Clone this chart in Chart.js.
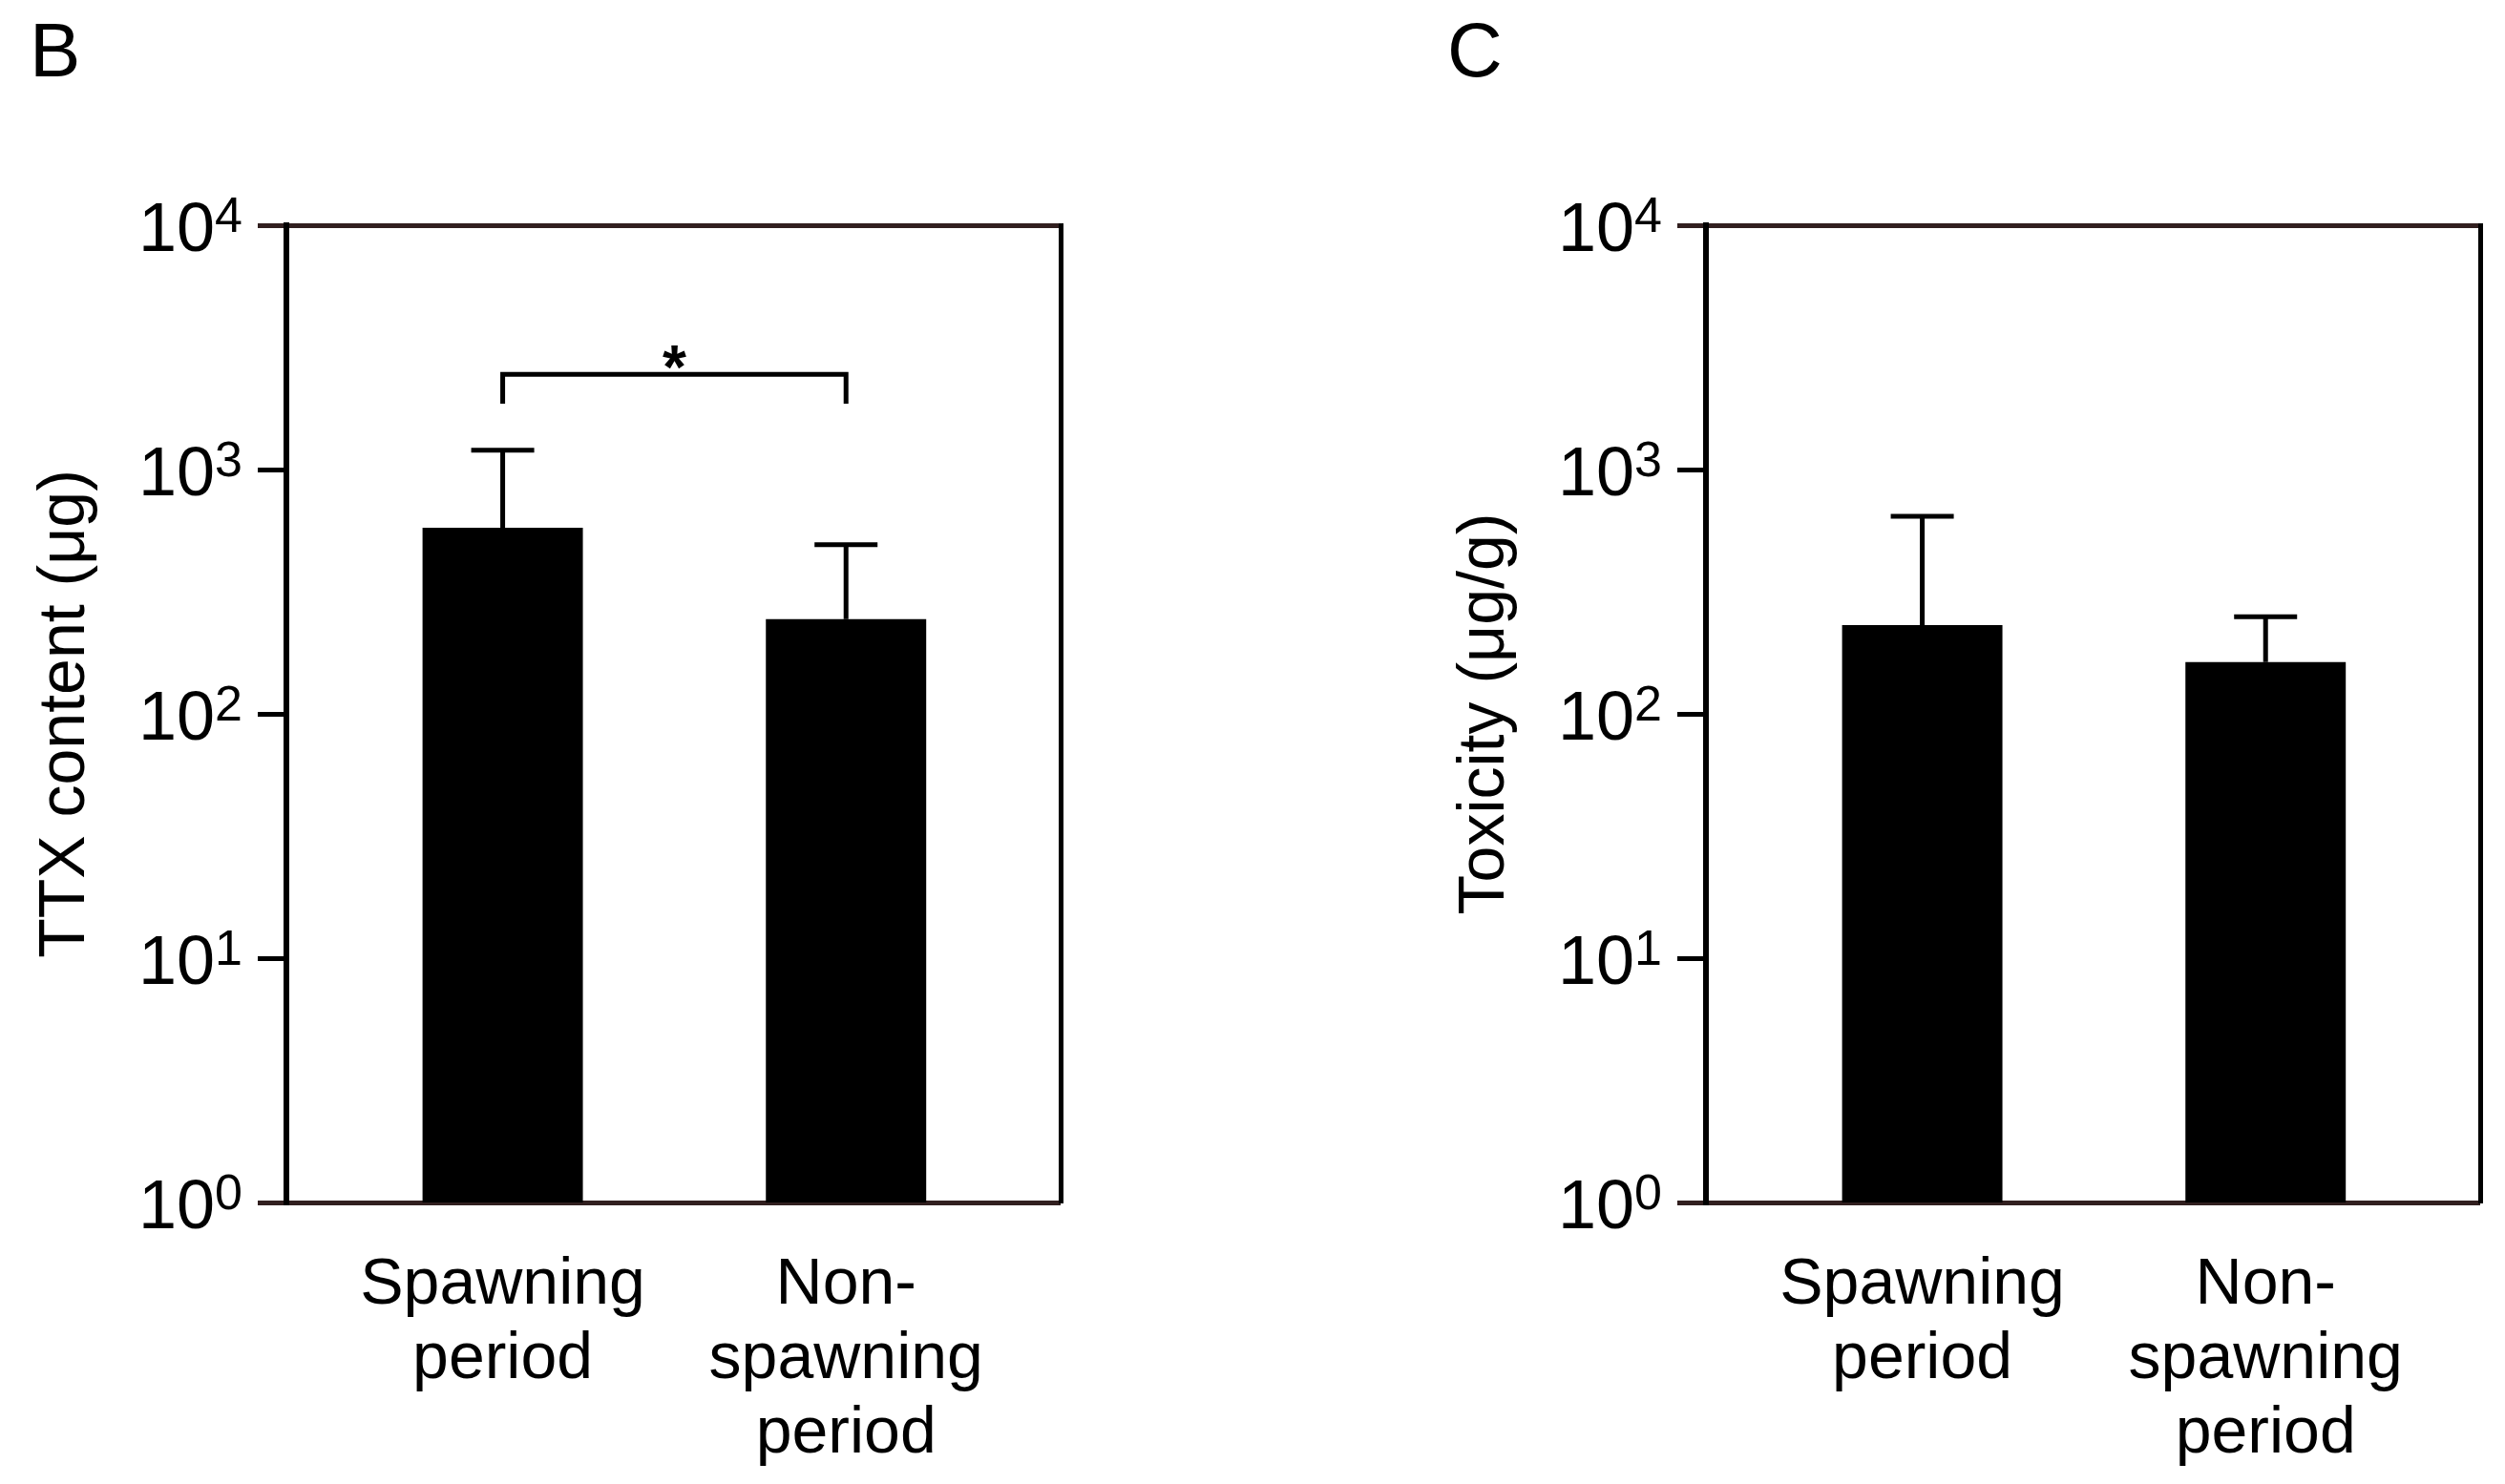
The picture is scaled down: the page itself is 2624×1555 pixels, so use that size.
<!DOCTYPE html>
<html>
<head>
<meta charset="utf-8">
<title>TTX content and toxicity</title>
<script src="https://cdn.jsdelivr.net/npm/chart.js@4.4.1/dist/chart.umd.min.js"></script>
<style>
  html, body { margin: 0; padding: 0; background: #fff; }
  #page { position: relative; width: 2624px; height: 1555px; overflow: hidden;
          font-family: 'Liberation Sans', Arial, sans-serif; }
  #page canvas { position: absolute; top: 0; }
  .panel-letter { position: absolute; top: 13px; font-size: 80px; line-height: 80px; color: #000; }
</style>
</head>
<body>
<div id="page">
  <div class="panel-letter" style="left:31px">B</div>
  <div class="panel-letter" style="left:1516px">C</div>
  <canvas id="chartB" width="1137" height="1555" style="left:0"></canvas>
  <canvas id="chartC" width="1137" height="1555" style="left:1487px"></canvas>
</div>
<script>
"use strict";

// data
const categories = [["Spawning", "period"], ["Non-", "spawning", "period"]];
const yTicks = [1, 10, 100, 1000, 10000];

const ttxContent = [578, 244];          // panel B, µg
const ttxContentUpper = [1200, 493];    // mean + SD
const toxicity = [231, 163];            // panel C, µg/g
const toxicityUpper = [644, 250];

// significance bracket between the two bars of panel B
const bracketTop = 2450;
const bracketLegEnd = 1860;
const bracketMark = "*";

const FONT = "'Liberation Sans', Arial, sans-serif";
const EDGE = "#311f1f";

Chart.defaults.font.family = FONT;
Chart.defaults.color = "#000";

// y tick labels as 10 with a real superscript exponent
const powerLabels = {
    id: "powerLabels",
    afterDraw(chart) {
        const { ctx } = chart;
        const y = chart.scales.y;
        const right = y.right - 30 - 16;
        ctx.save();
        ctx.fillStyle = "#000";
        ctx.textAlign = "right";
        ctx.textBaseline = "alphabetic";
        y.ticks.forEach(t => {
            const py = y.getPixelForValue(t.value);
            const exp = String(Math.round(Math.log10(t.value)));
            ctx.font = "52px " + FONT;
            const w = ctx.measureText(exp).width;
            ctx.fillText(exp, right, py + 7);
            ctx.font = "72px " + FONT;
            ctx.fillText("10", right - w, py + 27);
        });
        ctx.restore();
    }
};

const errorBars = {
    id: "errorBars",
    afterDatasetsDraw(chart, args, opts) {
        if (!opts.upper) return;
        const { ctx } = chart;
        const x = chart.scales.x, y = chart.scales.y;
        const meta = chart.getDatasetMeta(0);
        ctx.save();
        ctx.strokeStyle = "#000";
        ctx.lineWidth = 5;
        opts.upper.forEach((u, i) => {
            const px = x.getPixelForValue(i + 1);
            const top = y.getPixelForValue(u);
            ctx.beginPath();
            ctx.moveTo(px, meta.data[i].y);
            ctx.lineTo(px, top);
            ctx.moveTo(px - 33, top);
            ctx.lineTo(px + 33, top);
            ctx.stroke();
        });
        ctx.restore();
    }
};

const sigBracket = {
    id: "sigBracket",
    afterDatasetsDraw(chart, args, opts) {
        if (!opts.show) return;
        const { ctx } = chart;
        const x = chart.scales.x, y = chart.scales.y;
        const x1 = x.getPixelForValue(1), x2 = x.getPixelForValue(2);
        const yt = y.getPixelForValue(bracketTop), yl = y.getPixelForValue(bracketLegEnd);
        ctx.save();
        ctx.strokeStyle = "#000";
        ctx.lineWidth = 5;
        ctx.beginPath();
        ctx.moveTo(x1, yl);
        ctx.lineTo(x1, yt);
        ctx.lineTo(x2, yt);
        ctx.lineTo(x2, yl);
        ctx.stroke();
        ctx.fillStyle = "#000";
        ctx.font = "bold 64px " + FONT;
        ctx.textAlign = "center";
        ctx.textBaseline = "alphabetic";
        ctx.fillText(bracketMark, (x1 + x2) / 2, yt + 15);
        ctx.restore();
    }
};

function isEdge(ctx) {
    return ctx.tick && (ctx.tick.value === yTicks[0] || ctx.tick.value === yTicks[yTicks.length - 1]);
}

function creaGrafico(id, values, upper, yTitle, bracket) {
    return new Chart(document.getElementById(id), {
        type: "bar",
        data: {
            datasets: [{
                data: values.map((v, i) => ({ x: i + 1, y: v })),
                backgroundColor: "#000",
                borderWidth: 0,
                categoryPercentage: 1,
                barPercentage: 0.467,
                xAxisID: "x",
                yAxisID: "y"
            }]
        },
        options: {
            responsive: false,
            animation: false,
            devicePixelRatio: 1,
            layout: { padding: { top: 236, left: 0, right: 26, bottom: 0 } },
            plugins: {
                legend: { display: false },
                tooltip: { enabled: false },
                errorBars: { upper: upper },
                sigBracket: { show: bracket }
            },
            scales: {
                x: {
                    type: "linear",
                    min: 0.37,
                    max: 2.625,
                    offset: false,
                    grid: { display: false },
                    border: { display: false },
                    afterBuildTicks: s => { s.ticks = categories.map((c, i) => ({ value: i + 1 })); },
                    ticks: {
                        callback: v => categories[Math.round(v) - 1],
                        font: { size: 68, lineHeight: 1.15 },
                        color: "#000",
                        padding: 40,
                        maxRotation: 0,
                        autoSkip: false
                    },
                    afterFit: s => { s.height = 295; }
                },
                y: {
                    type: "logarithmic",
                    min: yTicks[0],
                    max: yTicks[yTicks.length - 1],
                    afterBuildTicks: s => { s.ticks = yTicks.map(v => ({ value: v })); },
                    ticks: { display: false },
                    grid: {
                        drawOnChartArea: true,
                        lineWidth: 5,
                        tickLength: 30,
                        tickWidth: 5,
                        color: ctx => isEdge(ctx) ? EDGE : "rgba(0,0,0,0)",
                        tickColor: ctx => isEdge(ctx) ? EDGE : "#000"
                    },
                    border: { display: true, color: "#000", width: 6 },
                    title: {
                        display: true,
                        text: yTitle,
                        font: { size: 68 },
                        color: "#000",
                        padding: { top: 28, bottom: 0 }
                    },
                    afterFit: s => { s.width = 300; }
                },
                yRight: {
                    type: "logarithmic",
                    position: "right",
                    min: yTicks[0],
                    max: yTicks[yTicks.length - 1],
                    ticks: { display: false },
                    grid: { drawOnChartArea: false, drawTicks: false, color: "rgba(0,0,0,0)" },
                    border: { display: true, color: "#000", width: 5 },
                    afterFit: s => { s.width = 0; }
                }
            }
        },
        plugins: [errorBars, sigBracket, powerLabels]
    });
}

creaGrafico("chartB", ttxContent, ttxContentUpper, "TTX content (\u03bcg)", true);
creaGrafico("chartC", toxicity, toxicityUpper, "Toxicity (\u03bcg/g)", false);
</script>
</body>
</html>
